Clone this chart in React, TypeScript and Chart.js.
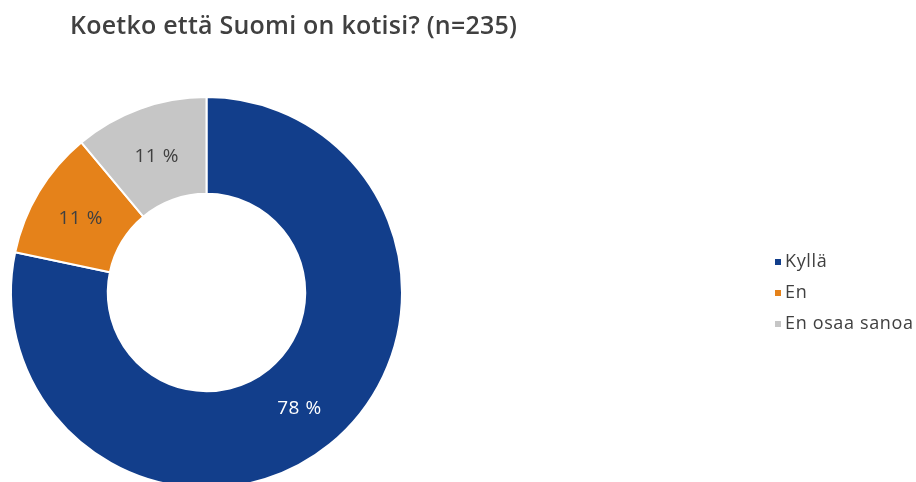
import React, { useEffect, useRef } from "react";
import { Chart, registerables } from "chart.js";

Chart.register(...registerables);

const TITLE = "Koetko että Suomi on kotisi? (n=235)";
const categories = ["Kyllä", "En", "En osaa sanoa"];
const counts = [184, 25, 26];
const colors = ["#123E8B", "#E5821A", "#C6C6C6"];
const labelColors = ["#FFFFFF", "#404040", "#404040"];

const FONT = "'Open Sans', 'Noto Sans', sans-serif";

function fitText(ctx: any, text: string, target: number) {
  ctx.letterSpacing = "0px";
  const w = ctx.measureText(text).width;
  const sp = Math.max(0, (target - w) / Math.max(1, text.length - 1));
  ctx.letterSpacing = `${sp}px`;
}

const overlayPlugin = {
  id: "overlay",
  afterDraw(chart: any) {
    const ctx = chart.ctx as any;
    const meta = chart.getDatasetMeta(0);
    const total = counts.reduce((a, b) => a + b, 0);
    ctx.save();
    // slice labels
    meta.data.forEach((arc: any, i: number) => {
      const p = arc.getProps(["x", "y", "startAngle", "endAngle", "innerRadius", "outerRadius"], true);
      const mid = (p.startAngle + p.endAngle) / 2;
      const r = (p.innerRadius + p.outerRadius) / 2;
      const x = p.x + Math.cos(mid) * r;
      const y = p.y + Math.sin(mid) * r;
      const pct = Math.round((counts[i] / total) * 100);
      const txt = `${pct} %`;
      ctx.font = `19px ${FONT}`;
      fitText(ctx, txt, 44);
      ctx.fillStyle = labelColors[i];
      ctx.textAlign = "left";
      ctx.textBaseline = "middle";
      ctx.fillText(txt, x - 22, y + 2);
    });
    // title
    ctx.font = `600 25px ${FONT}`;
    fitText(ctx, TITLE, 447);
    ctx.fillStyle = "#404040";
    ctx.textAlign = "left";
    ctx.textBaseline = "middle";
    ctx.fillText(TITLE, 70, 27);
    // legend
    ctx.font = `18px ${FONT}`;
    ctx.letterSpacing = "0px";
    const longest = categories[categories.length - 1];
    const base = ctx.measureText(longest).width;
    const sp = Math.max(0, (128 - base) / (longest.length - 1));
    categories.forEach((c, i) => {
      const y = 262 + i * 31;
      ctx.fillStyle = colors[i];
      ctx.fillRect(775, y - 3, 6, 6);
      ctx.letterSpacing = `${sp}px`;
      ctx.fillStyle = "#404040";
      ctx.textAlign = "left";
      ctx.textBaseline = "middle";
      ctx.fillText(c, 785, y);
    });
    ctx.restore();
  },
};

export default function App() {
  const ref = useRef<HTMLCanvasElement | null>(null);
  useEffect(() => {
    if (!ref.current) return;
    const chart = new Chart(ref.current, {
      type: "doughnut",
      data: {
        labels: categories,
        datasets: [
          {
            data: counts,
            backgroundColor: colors,
            borderColor: "#FFFFFF",
            borderWidth: 2,
          },
        ],
      },
      options: {
        responsive: false,
        animation: false,
        cutout: "50.5%",
        layout: { padding: { left: 10, right: 513, top: 96, bottom: 11 } },
        plugins: {
          legend: { display: false },
          title: { display: false },
          tooltip: { enabled: false },
        },
      },
      plugins: [overlayPlugin],
    });
    return () => chart.destroy();
  }, []);
  return (
    <div style={{ position: "absolute", left: 0, top: 0, width: 916, height: 482, overflow: "hidden", background: "#fff" }}>
      <canvas ref={ref} width={916} height={500} style={{ display: "block" }} />
    </div>
  );
}
